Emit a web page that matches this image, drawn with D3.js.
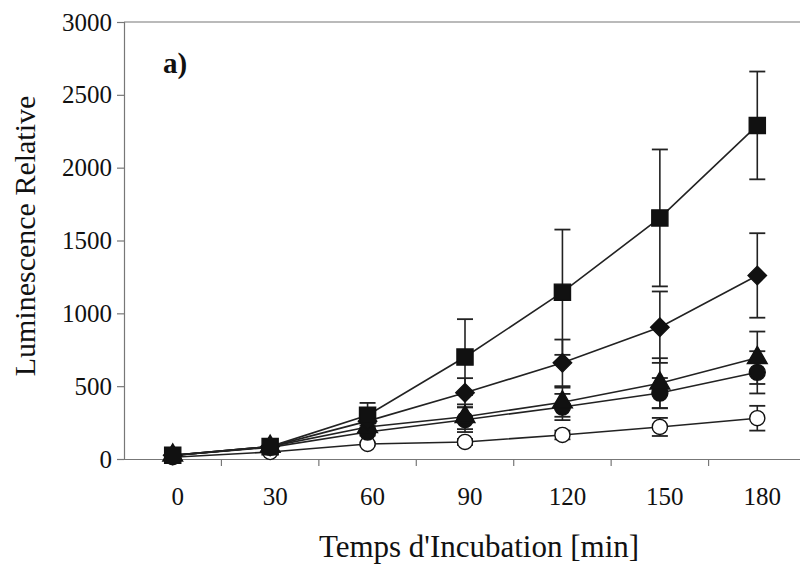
<!DOCTYPE html>
<html>
<head>
<meta charset="utf-8">
<script src="https://cdn.jsdelivr.net/npm/d3@7"></script>
<style>
  body { margin: 0; background: #fff; }
  svg text { font-family: "Liberation Serif", "DejaVu Serif", serif; fill: #111; }
</style>
</head>
<body>
<div id="chart"></div>
<script>
const times = [0, 30, 60, 90, 120, 150, 180];
const yTicks = [0, 500, 1000, 1500, 2000, 2500, 3000];

// values
const squareVals    = [25, 85, 300, 700, 1145, 1655, 2290];
const squareErr     = [0, 0, 85, 260, 430, 470, 370];
const diamondVals   = [25, 85, 260, 455, 660, 905, 1260];
const diamondErr    = [0, 0, 30, 100, 160, 245, 290];
const triangleVals  = [25, 85, 220, 290, 390, 520, 695];
const triangleErr   = [0, 0, 25, 85, 100, 172, 180];
const circleVals    = [25, 80, 185, 270, 357, 453, 595];
const circleErr     = [0, 0, 25, 85, 90, 103, 145];
const openVals      = [12, 48, 103, 117, 165, 220, 280];
const openErr       = [0, 0, 10, 20, 30, 62, 85];

const series = [
  {name: 'open', vals: openVals, err: openErr, symbol: d3.symbolCircle, size: 180, fill: '#fff', rot: 0},
  {name: 'circle', vals: circleVals, err: circleErr, symbol: d3.symbolCircle, size: 200, fill: '#111', rot: 0},
  {name: 'triangle', vals: triangleVals, err: triangleErr, symbol: d3.symbolTriangle, size: 170, fill: '#111', rot: 0},
  {name: 'diamond', vals: diamondVals, err: diamondErr, symbol: d3.symbolSquare, size: 170, fill: '#111', rot: 45},
  {name: 'square', vals: squareVals, err: squareErr, symbol: d3.symbolSquare, size: 260, fill: '#111', rot: 0},
];

const W = 800, H = 564;
const plot = {left: 124, right: 806, top: 22, bottom: 459};

const svg = d3.select('#chart').append('svg')
  .attr('width', W)
  .attr('height', H);

const x = d3.scaleBand()
  .domain(times)
  .range([plot.left, plot.right]);

const y = d3.scaleLinear()
  .domain([0, 3000])
  .range([plot.bottom, plot.top]);

const cx = (t) => x(t) + x.bandwidth() / 2;
const axisColor = '#777';

// frame top
svg.append('line')
  .attr('x1', plot.left).attr('x2', W)
  .attr('y1', plot.top).attr('y2', plot.top)
  .attr('stroke', axisColor).attr('stroke-width', 1.2);

// y axis
const yAxis = svg.append('g')
  .attr('transform', `translate(${plot.left},0)`)
  .call(d3.axisLeft(y).tickValues(yTicks).tickFormat(d3.format('d')).tickSize(7).tickPadding(5));
yAxis.selectAll('text').attr('font-size', '25px').style('font-family', '"Liberation Serif", serif');
yAxis.selectAll('line, path').attr('stroke', axisColor).attr('stroke-width', 1.2);

// x axis, labels centred on categories, ticks on boundaries
const xAxis = svg.append('g')
  .attr('transform', `translate(0,${plot.bottom})`)
  .call(d3.axisBottom(x).tickSize(0).tickPadding(28));
xAxis.select('.domain').attr('stroke', axisColor).attr('stroke-width', 1.2);
xAxis.selectAll('text')
  .attr('font-size', '25px')
  .attr('dx', 5)
  .style('font-family', '"Liberation Serif", serif');

svg.append('g')
  .selectAll('line')
  .data(times.slice(1))
  .enter()
  .append('line')
    .attr('x1', (d) => x(d)).attr('x2', (d) => x(d))
    .attr('y1', plot.bottom).attr('y2', plot.bottom + 7)
    .attr('stroke', axisColor).attr('stroke-width', 1.2);

// axis titles
svg.append('text')
  .attr('x', 479)
  .attr('y', 557)
  .attr('text-anchor', 'middle')
  .attr('font-size', '31px')
  .text("Temps d'Incubation [min]");

svg.append('text')
  .attr('transform', 'translate(35,236) rotate(-90)')
  .attr('text-anchor', 'middle')
  .attr('font-size', '30px')
  .text('Luminescence Relative');

svg.append('text')
  .attr('x', 163)
  .attr('y', 73)
  .attr('font-size', '29px')
  .attr('font-weight', 'bold')
  .text('a)');

const line = d3.line()
  .x((d, i) => cx(times[i]))
  .y((d) => y(d));

// lines
svg.append('g')
  .selectAll('path')
  .data(series)
  .enter()
  .append('path')
    .attr('d', (s) => line(s.vals))
    .attr('fill', 'none')
    .attr('stroke', '#222')
    .attr('stroke-width', 1.6);

// error bars
const capW = 8;
series.forEach((s) => {
  const g = svg.append('g').attr('class', 'err-' + s.name);
  const pts = s.vals.map((v, i) => ({t: times[i], v, e: s.err[i]})).filter((p) => p.e > 0);

  g.selectAll('line.stem')
    .data(pts)
    .enter()
    .append('line')
      .attr('class', 'stem')
      .attr('x1', (d) => cx(d.t)).attr('x2', (d) => cx(d.t))
      .attr('y1', (d) => y(d.v - d.e)).attr('y2', (d) => y(d.v + d.e))
      .attr('stroke', '#222').attr('stroke-width', 1.6);

  [1, -1].forEach((sign) => {
    g.selectAll('line.cap' + sign)
      .data(pts)
      .enter()
      .append('line')
        .attr('x1', (d) => cx(d.t) - capW).attr('x2', (d) => cx(d.t) + capW)
        .attr('y1', (d) => y(d.v + sign * d.e)).attr('y2', (d) => y(d.v + sign * d.e))
        .attr('stroke', '#222').attr('stroke-width', 1.8);
  });
});

// markers
series.forEach((s) => {
  svg.append('g')
    .selectAll('path')
    .data(s.vals)
    .enter()
    .append('path')
      .attr('d', d3.symbol().type(s.symbol).size(s.size))
      .attr('transform', (d, i) => `translate(${cx(times[i])},${y(d)}) rotate(${s.rot})`)
      .attr('fill', s.fill)
      .attr('stroke', '#111')
      .attr('stroke-width', 1.4);
});
</script>
</body>
</html>
